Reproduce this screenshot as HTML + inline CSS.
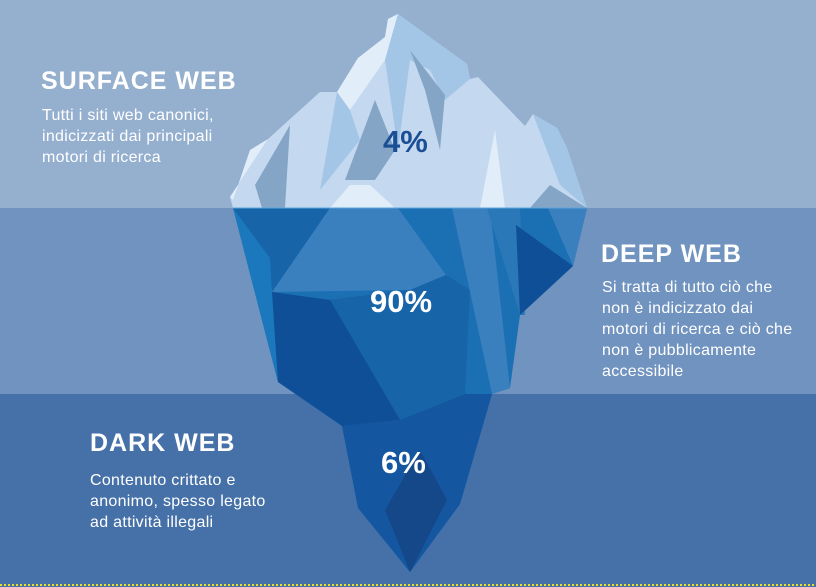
<!DOCTYPE html>
<html><head><meta charset="utf-8"><style>
html,body{margin:0;padding:0;}
body{width:816px;height:587px;overflow:hidden;}
svg{display:block;}
.h{font-family:"Liberation Sans",sans-serif;font-weight:bold;fill:#fff;font-size:25px;letter-spacing:1px;}
.b{font-family:"Liberation Sans",sans-serif;fill:#fff;font-size:16px;letter-spacing:0.3px;}
.p{font-family:"Liberation Sans",sans-serif;font-weight:bold;font-size:31px;}
</style></head><body>
<svg width="816" height="587" viewBox="0 0 816 587" xmlns="http://www.w3.org/2000/svg">
<rect x="0" y="0" width="816" height="208" fill="#95afcf"/>
<rect x="0" y="208" width="816" height="186" fill="#7093bf"/>
<rect x="0" y="394" width="816" height="193" fill="#4571a8"/>
<line x1="0" y1="585" x2="816" y2="585" stroke="#e8e020" stroke-width="2" stroke-dasharray="2,2"/>

<polygon points="233,208 278,382 342,426 358,508 410,572 460,504 492,394 510,388 520,315 573,266 587,208" fill="#1b6fb3"/>
<polygon points="233,208 270,258 278,382" fill="#1b78bc"/>
<polygon points="233,208 330,208 272,292 270,258" fill="#1764a8"/>
<polygon points="330,208 398,208 446,275 410,290 272,292" fill="#3a7fbe"/>
<polygon points="272,292 330,300 410,290 400,420 342,426 278,382" fill="#0f4f97"/>
<polygon points="330,300 410,290 446,275 470,290 465,394 400,420" fill="#1764a8"/>
<polygon points="452,208 490,208 510,388 492,394" fill="#3a7fbe"/>
<polygon points="487,208 520,208 525,315 520,315" fill="#2a78b8"/>
<polygon points="516,225 573,266 520,315" fill="#0f4f97"/>
<polygon points="548,208 587,208 573,266" fill="#3a7fbe"/>
<polygon points="342,426 400,420 465,394 492,394 460,504 410,572 358,508" fill="#1456a0"/>
<polygon points="385,510 420,450 447,500 410,572" fill="#154888"/>

<polygon points="230,197 268,139 320,92 337,92 358,58 385,37 388,19 398,14 467,64 470,79 478,77 525,126 533,114 557,128 567,148 587,208 233,208" fill="#c4d9ef"/>
<polygon points="230,197 268,139 250,150 233,200" fill="#e1edf8"/>
<polygon points="337,92 358,58 385,37 388,19 398,14 385,60 350,110" fill="#e1edf8"/>
<polygon points="398,14 467,64 470,79 445,100 430,70 410,60 398,150 385,60" fill="#a3c5e6"/>
<polygon points="410,50 445,95 440,150 425,90" fill="#85a5c6"/>
<polygon points="337,92 350,110 360,140 320,190" fill="#a3c5e6"/>
<polygon points="375,100 395,150 375,180 345,180" fill="#85a5c6"/>
<polygon points="290,125 255,185 262,208 285,208" fill="#85a5c6"/>
<polygon points="533,114 557,128 567,148 587,208 560,185" fill="#a3c5e6"/>
<polygon points="550,185 587,208 530,208" fill="#85a5c6"/>
<polygon points="495,130 480,208 505,208" fill="#e1edf8"/>
<polygon points="330,208 350,185 370,185 395,208" fill="#e1edf8"/>
<line x1="233" y1="208" x2="587" y2="208" stroke="#5aa6dc" stroke-width="1"/>

<text class="p" x="383" y="152" fill="#1a4f96">4%</text>
<text class="p" x="370" y="312" fill="#fff">90%</text>
<text class="p" x="381" y="473" fill="#fff">6%</text>

<text class="h" x="41" y="89">SURFACE WEB</text>
<text class="b" x="42" y="120">Tutti i siti web canonici,</text>
<text class="b" x="42" y="141">indicizzati dai principali</text>
<text class="b" x="42" y="162">motori di ricerca</text>

<text class="h" x="601" y="262">DEEP WEB</text>
<text class="b" x="602" y="292">Si tratta di tutto ciò che</text>
<text class="b" x="602" y="313">non è indicizzato dai</text>
<text class="b" x="602" y="334">motori di ricerca e ciò che</text>
<text class="b" x="602" y="355">non è pubblicamente</text>
<text class="b" x="602" y="376">accessibile</text>

<text class="h" x="90" y="451">DARK WEB</text>
<text class="b" x="90" y="485">Contenuto crittato e</text>
<text class="b" x="90" y="506">anonimo, spesso legato</text>
<text class="b" x="90" y="527">ad attività illegali</text>
</svg>
</body></html>
